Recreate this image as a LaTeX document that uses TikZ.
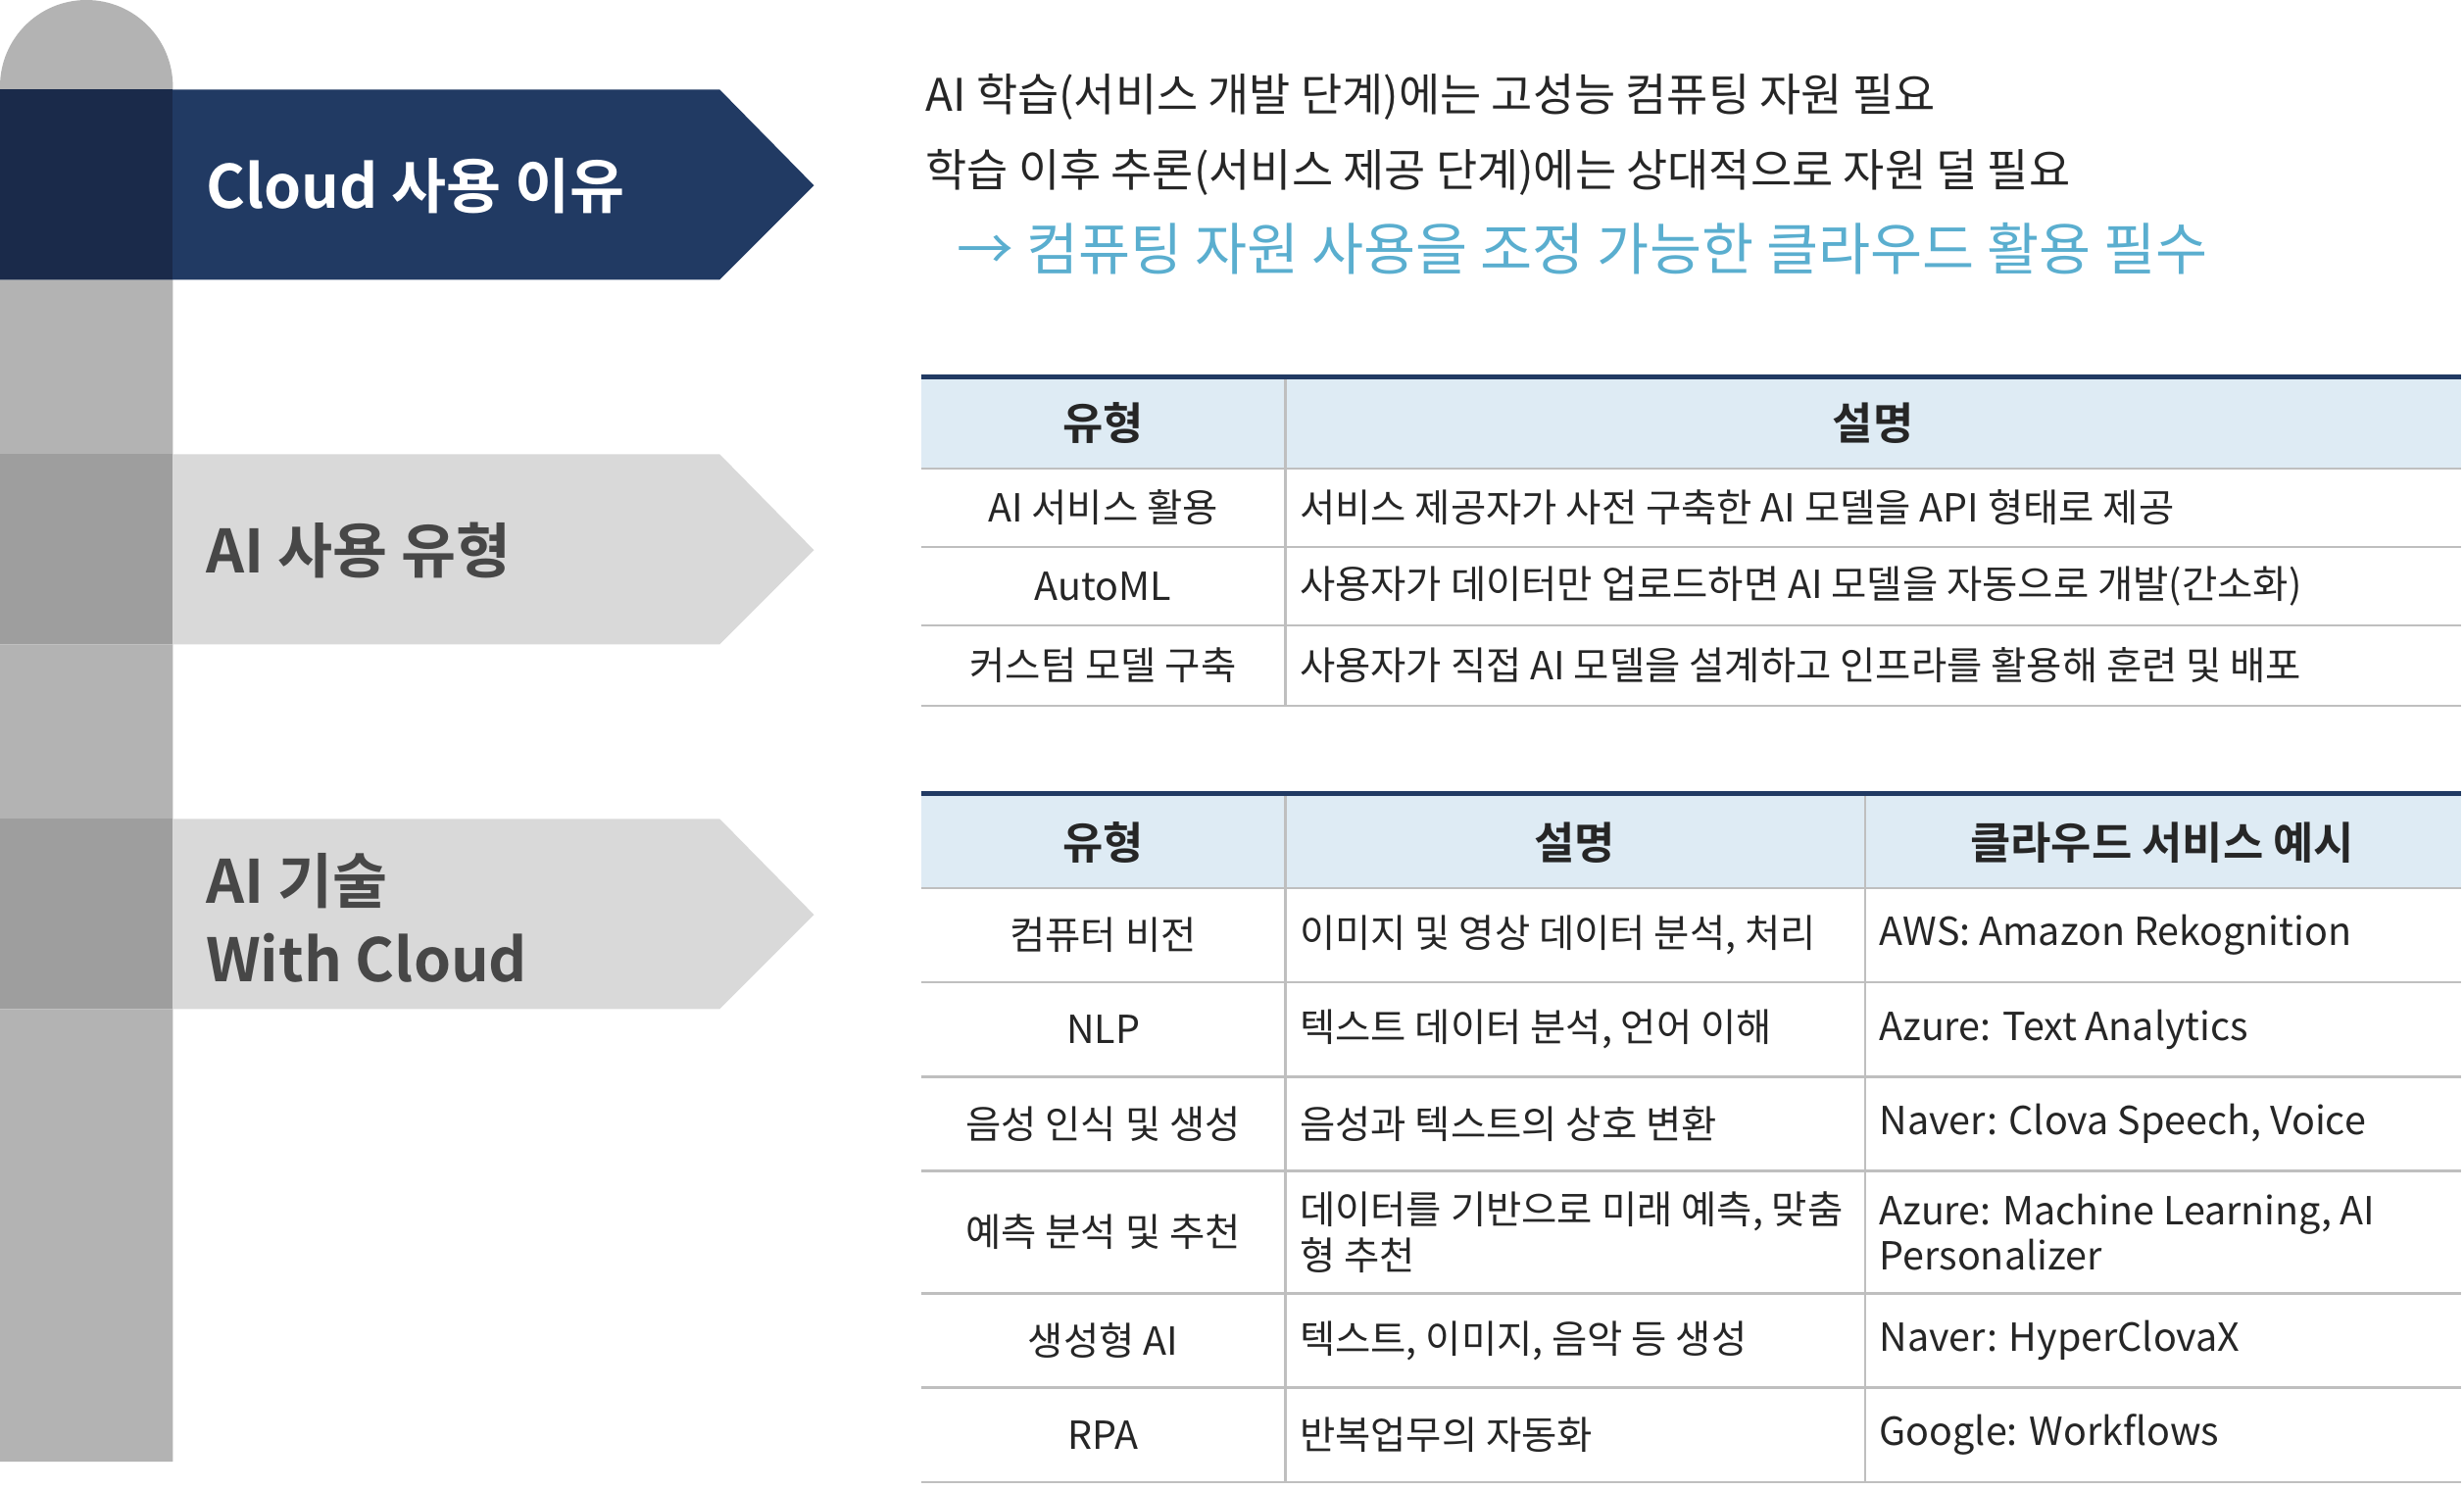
\documentclass[tikz,border=0pt]{standalone}
\usepackage{fontspec}
\setmainfont{Noto Sans CJK KR}
\newfontfamily\bfk{Noto Sans CJK KR Bold}
\definecolor{navy}{HTML}{213A63}
\definecolor{navyd}{HTML}{1A2A4A}
\definecolor{lg}{HTML}{D9D9D9}
\definecolor{mg}{HTML}{9E9E9E}
\definecolor{bar}{HTML}{B3B3B3}
\definecolor{hd}{HTML}{DEEBF4}
\definecolor{bl}{HTML}{5AAECF}
\definecolor{tx}{HTML}{262626}
\definecolor{ln}{HTML}{BFBFBF}
\begin{document}
\begin{tikzpicture}[x=0.5pt,y=-0.5pt,
  body/.style={font=\fontsize{12.3}{14.5}\selectfont,text=tx},
  hdr/.style={font=\bfk\fontsize{14}{17}\selectfont,text=tx},
  ban/.style={font=\bfk\fontsize{19}{25}\selectfont,anchor=west,align=left},
  grid/.style={draw=ln,line width=0.8pt},
  top/.style={draw=navy,line width=1.6pt}]
\useasboundingbox (0,0) rectangle (1568,948);
% bar
\fill[bar] (0,930) -- (0,55) arc[start angle=180,end angle=360,radius=55] -- (110,930) -- cycle;
% banners
\fill[navy] (0,57) -- (458,57) -- (518,118) -- (458,178) -- (0,178) -- cycle;
\fill[navyd] (0,57) rectangle (110,178);
\foreach \y in {289,521}{
 \fill[lg] (0,\y) -- (458,\y) -- (518,\y+61) -- (458,\y+121) -- (0,\y+121) -- cycle;
 \fill[mg] (0,\y) rectangle (110,\y+121);}
\node[ban,text=white] (b1) at (124,118) {Cloud 사용 이유};
\node[ban,text=tx!85] (b2) at (124,350) {AI 사용 유형};
\node[ban,text=tx!85] (b3) at (124,584) {AI 기술\\With Cloud};
% top text
\node[body,anchor=west,font=\fontsize{14.3}{18}\selectfont] (t1) at (582,62) {AI 학습(서비스 개발 단계)에는 고성능 컴퓨팅 자원 필요};
\node[body,anchor=west,font=\fontsize{14.3}{18}\selectfont] (t2) at (582,110) {학습 이후 추론(서비스 제공 단계)에는 상대적으로 자원 덜 필요};
\node[anchor=west,text=bl,font=\fontsize{18}{22}\selectfont] (t3) at (602,158) {→ 컴퓨팅 자원 사용을 조정 가능한 클라우드 활용 필수};
% table 1
\fill[hd] (586,240) rectangle (1566,298);
\foreach \y in {298,348,398,449} \draw[grid] (586,\y) -- (1566,\y);
\draw[grid] (818,240) -- (818,449);
\draw[top] (586,240) -- (1566,240);
\node[hdr] (h11) at (702,269) {유형};
\node[hdr] (h12) at (1192,269) {설명};
\node[body] at (702,323) {AI 서비스 활용};
\node[body] at (702,373) {AutoML};
\node[body] at (702,423) {커스텀 모델 구축};
\node[body,anchor=west] at (820,323) {서비스 제공자가 사전 구축한 AI 모델을 API 형태로 제공};
\node[body,anchor=west] at (820,373) {사용자가 데이터만 업로드하면 AI 모델을 자동으로 개발(간소화)};
\node[body,anchor=west] at (820,423) {사용자가 직접 AI 모델을 설계하고 인프라를 활용해 훈련 및 배포};
% table 2
\fill[hd] (586,505) rectangle (1566,565);
\foreach \y in {565,625,685,745,823,883,943} \draw[grid] (586,\y) -- (1566,\y);
\draw[grid] (818,505) -- (818,943);
\draw[grid] (1187,505) -- (1187,943);
\draw[top] (586,505) -- (1566,505);
\node[hdr] at (702,536) {유형};
\node[hdr] at (1002,536) {설명};
\node[hdr] at (1376,536) {클라우드 서비스 예시};
\foreach \y/\a/\b/\c in {595/컴퓨터 비전/{이미지 및 영상 데이터 분석, 처리}/AWS: Amazon Rekognition,
 655/NLP/{텍스트 데이터 분석, 언어 이해}/Azure: Text Analytics,
 715/음성 인식 및 생성/음성과 텍스트의 상호 변환/{Naver: Clova Speech, Voice},
 784/예측 분석 및 추천/{데이터를 기반으로 미래 예측, 맞춤\\형 추천}/{Azure: Machine Learning, AI\\Personalizer},
 853/생성형 AI/{텍스트, 이미지, 음악 등 생성}/Naver: HyperClovaX,
 913/RPA/반복업무의 자동화/Google: Workflows}{
 \node[body] at (702,\y) {\a};
 \node[body,anchor=west,align=left] at (820,\y) {\b};
 \node[body,anchor=west,align=left] at (1189,\y) {\c};}
\end{tikzpicture}
\end{document}
